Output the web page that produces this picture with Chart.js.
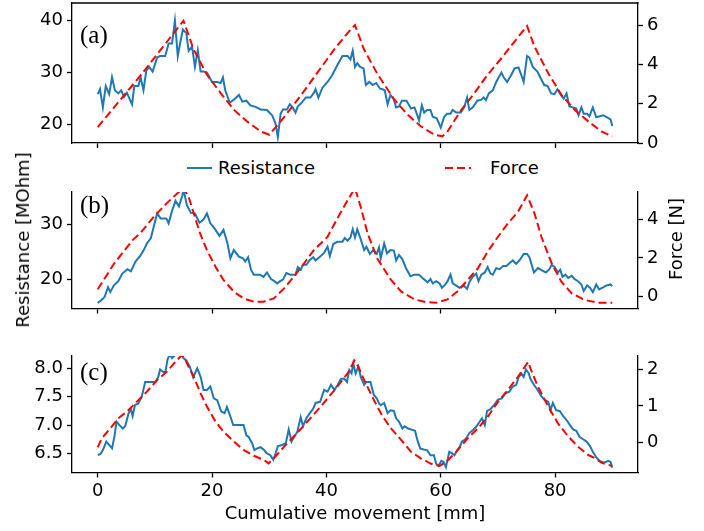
<!DOCTYPE html>
<html><head><meta charset="utf-8">
<script src="https://cdn.jsdelivr.net/npm/chart.js@4.4.0/dist/chart.umd.min.js"></script>
<style>
html,body{margin:0;padding:0;background:#fff;}
#wrap{position:relative;width:704px;height:531px;overflow:hidden;font-family:"DejaVu Sans",sans-serif;color:#000;}
.pane{position:absolute;left:0;}
.plab{position:absolute;font-family:"Liberation Serif","DejaVu Serif",serif;font-size:25px;line-height:25px;}
.ytitle{position:absolute;font-size:18px;line-height:18px;white-space:nowrap;transform:translate(-50%,-50%) rotate(-90deg);}
.leg{position:absolute;font-size:18px;line-height:18px;white-space:nowrap;}
</style></head>
<body><div id="wrap">
<div class="pane" style="top:0px"><canvas id="ca" width="704" height="151"></canvas></div>
<div class="pane" style="top:186px"><canvas id="cb" width="704" height="131"></canvas></div>
<div class="pane" style="top:350px"><canvas id="cc" width="704" height="181"></canvas></div>
<div class="plab" style="left:80px;top:22px">(a)</div>
<div class="plab" style="left:80px;top:192px">(b)</div>
<div class="plab" style="left:80px;top:359px">(c)</div>
<div class="ytitle" style="left:23px;top:240px">Resistance [MOhm]</div>
<div class="ytitle" style="left:676px;top:239px">Force [N]</div>
<svg style="position:absolute;left:185px;top:160px" width="30" height="16"><line x1="2" y1="8" x2="27" y2="8" stroke="#1f77b4" stroke-width="2"/></svg>
<div class="leg" style="left:218px;top:159px">Resistance</div>
<svg style="position:absolute;left:443px;top:160px" width="32" height="16"><line x1="2" y1="8" x2="28" y2="8" stroke="#ff0000" stroke-width="2" stroke-dasharray="8,4"/></svg>
<div class="leg" style="left:490px;top:159px">Force</div>
</div>
<script>
// ---- data (x = cumulative movement [mm]) ----
const xTicks = [0, 20, 40, 60, 80];

const aResX = [0,0.4,0.9,1.4,2,2.5,3,3.6,4.1,4.6,
 5.1,6,6.4,7.1,7.5,8,8.5,9,9.6,10.4,
 10.9,11.8,12.4,13,13.5,14,14.4,14.9,15.5,15.9,
 16.5,17,17.5,18,18.5,19.1,20,20.9,21.5,21.9,
 22.3,23.1,23.8,24.7,25.3,26,26.7,27.6,28.5,29.6,
 30.5,31.1,31.5,32,32.4,33.1,33.6,34.1,34.6,35,
 35.5,36.4,37.2,37.8,38.1,38.6,39.3,40.2,41,41.9,
 42.8,43.7,44.2,44.6,45,45.4,45.9,46.5,46.9,47.5,
 48.1,48.7,49.4,49.8,50.2,50.7,51.2,51.8,52.2,52.7,
 53.2,54,54.8,55.4,55.8,56.2,56.7,57.1,57.6,58.2,
 58.6,59.3,60,60.6,61.1,61.7,62.1,62.7,63.5,64.1,
 64.6,65,65.6,66.4,67.1,67.5,67.9,68.4,69.1,69.7,
 70.6,71,71.6,72.3,72.9,73.6,74.1,74.5,75.1,75.5,
 76.1,76.9,77.4,78.1,78.7,79.3,79.9,80.4,81,81.5,
 82,82.5,83.1,83.7,84.1,84.6,85,85.6,86,86.6,
 87.2,87.8,88.4,89.1,89.7,90];
const aRes = [25.85,26.8,23.3,27.4,25.85,29.1,26.6,26,26.6,25.3,
 26.1,23.9,27.4,27.4,29.1,26.6,30.4,31.1,30.2,32.9,
 33.2,33.2,35.6,35.6,40,33.2,35.6,38.3,37.6,34.2,
 35,31.1,34.3,30.2,30.2,30,28.2,28.2,28,29.1,
 26.6,24.2,24.8,25.7,24.4,24.6,23.7,23.4,22.9,22.8,
 21.8,20.2,17.6,22.1,22.9,22.9,23.9,23.3,22.3,23.5,
 24,25.2,25.2,26.1,26.8,25.2,27.1,28.2,29.5,31.4,
 33.2,33.2,32.5,34.2,31.1,31.8,31.1,30.8,27.6,28.2,
 27.6,28,26.9,26.8,26.6,23.9,25.7,24.8,23.3,23.5,
 24.6,24.6,23.1,23.3,22.1,20.8,23.7,22.3,22.8,22.8,
 21.5,21.2,19.4,21.5,22.1,22.1,22.8,22.3,22.3,23.3,
 25.2,22.8,23.3,24.6,24.8,25.2,24.7,26,26.6,28.2,
 30,29.1,28.2,29.5,30.8,31,29.5,28.2,33.2,32.9,
 31.1,30.2,29.1,27.6,27.4,26,25.85,26.8,25.7,25,
 26,23.5,23.3,23.1,21.8,23.3,22.1,22.1,21.6,23.3,
 21.4,21.6,21.8,21.4,21,19.7];
const aForceX = [0,7.4,15,16.8,19.1,21.5,23.8,26.1,28.5,30,32,34.3,36.7,39,41.3,43.7,45,46.6,49,
 51.9,54.2,56.5,58.9,60.3,61.2,63.6,65.9,68.2,70.6,72.9,75.1,76.4,78.8,81.1,83.4,85.8,88.1,90];
const aForce = [0.81,3.4,6.22,4.74,3.47,2.54,1.69,1.1,0.59,0.42,1.1,1.95,2.88,3.81,4.74,5.59,6.0,4.74,3.47,
 2.2,1.44,0.85,0.42,0.34,0.59,1.69,2.54,3.47,4.31,5.16,5.95,4.9,3.55,2.45,1.69,1.1,0.59,0.33];

const bResX = [0,0.6,1.2,1.8,2.2,2.8,3.6,4.3,5.2,5.8,
 6.6,7.4,8,8.6,9.3,9.8,10.4,11,12,12.4,
 13,13.6,14.2,14.8,15,15.6,16.3,17,17.8,18.5,
 19.1,19.7,20.4,21.3,22,22.7,23.2,23.8,24.7,25.4,
 25.8,26.3,26.8,27.3,28.4,29,29.6,30.3,30.9,31.4,
 31.9,32.4,33,33.7,34.6,35,35.5,35.9,36.5,37.1,
 37.7,38.1,38.9,39.6,40.2,40.6,41.2,41.9,42.8,43.2,
 43.7,44.2,44.6,45,45.4,46,46.6,47,47.6,48.2,
 48.8,49.2,49.5,50.1,50.6,51.2,51.8,52.2,52.7,53.3,
 53.9,54.7,55.4,56.2,56.8,57.7,58.2,58.6,59.2,59.8,
 60.2,60.8,61.2,61.7,62.1,62.7,63.3,64,64.6,65,
 65.6,66.2,66.6,67.1,67.7,68.2,68.7,69.1,69.7,70.3,
 70.9,71.5,72,72.6,73.2,73.9,74.5,75.1,75.5,75.9,
 76.3,77,77.7,78.4,79,79.4,79.9,80.5,80.9,81.3,
 81.8,82.3,82.9,83.4,84,84.6,85,85.6,86.1,86.6,
 87.2,87.7,88.3,88.9,89.7,90];
const bRes = [15.6,16.1,16.7,18.5,17.6,18.8,19.6,21,21.8,21.4,
 23.2,24.2,25.2,26.5,27.5,29.6,32,31.1,31.1,30.2,
 32.5,34.3,33.3,35.3,36.4,33.5,32.1,32,30.3,30.9,
 32,30.2,29.3,27.9,29,26.5,23.8,25.3,24.1,23.8,
 23.2,24,21.7,20.8,20.8,20.4,21.2,20,19.6,19.2,
 19.6,19.9,21.1,20.8,20.8,22.2,21.7,22.6,22.6,23.5,
 24,23.4,24.1,24.8,25.9,24.2,26.4,26.8,26.8,27.5,
 27,27.6,29.1,27.6,29.1,27.3,25.3,25.9,24.6,25.3,
 24.6,25.8,23.8,26.5,24.7,25.3,25.2,23.4,24.4,23.6,
 22,20.5,20.8,20.8,20.2,19.4,20,19.2,19.6,19.2,
 18.4,19,19.6,20.8,19.2,18.8,18.4,18.8,18.2,19.4,
 20.4,21,19.6,20.8,21.2,22.2,21,20.8,22,21.8,
 22.4,22.4,22.9,23.4,22.8,23.6,24.6,24.6,24,22.6,
 21.2,22,21.6,21.2,21.8,22.6,22.2,21.2,21.7,20.4,
 20.8,20.2,20.6,20,19.6,19,17.8,18.8,18.4,17.6,
 19,18.1,18.4,18.8,19,18.7];
const bForceX = [0,1.4,2.9,4.5,6.1,7.4,9.8,12,13.8,15,15.9,16.8,17.9,19.1,20.6,22,23.8,25.5,27.3,29,
 30.8,32.6,34.3,36.1,37.8,40.2,41.9,43.7,45,46,47.2,48.9,51.3,53.1,55.4,57.1,59.2,61.2,62.9,64.7,
 66.5,68.2,70,71.7,73.5,75.1,76.4,77.6,79.4,81.1,82.9,85.2,87.5,90];
const bForce = [0.38,1.03,1.72,2.32,2.92,3.26,4.12,4.8,5.3,5.6,5.15,4.29,3.26,2.4,1.54,0.86,0.26,-0.09,-0.26,-0.26,
 -0.09,0.43,1.03,1.72,2.4,3.09,4.03,4.97,5.6,4.63,3.26,1.97,0.86,0.26,-0.14,-0.26,-0.31,-0.14,0.26,0.86,
 1.46,2.32,3.09,3.77,4.37,5.23,4.29,3.09,1.72,0.77,0.17,-0.17,-0.31,-0.31];

const cResX = [0,0.5,0.9,1.5,2,2.5,2.9,3.3,3.8,4.4,
 4.8,5.4,5.8,6.1,6.5,7.1,7.7,8.3,9.2,10.1,
 10.6,10.9,11.4,11.8,12.2,12.6,13,13.6,14.4,15,
 15.5,16.1,16.7,17.4,18,18.5,19.1,19.7,20.3,20.9,
 21.6,22.2,22.6,23.1,23.7,24.4,25.5,26,26.4,27,
 27.4,27.9,28.5,29.1,29.6,30.2,30.7,31.1,31.5,32.3,
 32.9,33.4,33.9,34.3,34.9,35.5,35.9,36.5,37.1,37.7,
 38.1,38.9,39.6,40.2,40.8,41.4,42,42.5,43.1,43.6,
 44,44.4,44.7,45.1,45.6,46,46.6,47,47.7,48.3,
 48.8,49.2,49.5,50.1,50.7,51.2,51.8,52.2,52.7,53.3,
 53.7,54.3,54.9,55.5,55.9,56.4,57,57.6,58.2,58.8,
 59.2,59.6,60.1,60.5,60.9,61.5,61.9,62.4,62.9,63.3,
 63.7,64.2,64.6,65,65.6,66.2,66.8,67.2,67.7,68.1,
 68.7,69.3,70,70.7,71.3,72,72.6,73.2,73.6,74.1,
 74.5,74.9,75.4,75.7,76.3,77,77.6,78.2,78.8,79.2,
 79.6,80.2,80.8,81.4,82,82.6,83.2,83.7,84.3,84.9,
 85.5,86.1,86.6,87.2,87.8,88.6,89.3,89.7,90];
const cRes = [6.47,6.49,6.56,6.71,6.65,6.59,6.79,7.06,7,6.94,
 6.98,7.21,7.28,7.16,7.35,7.38,7.5,7.76,7.76,7.76,
 7.85,7.98,7.94,7.92,8.15,8.25,8.18,8.24,8.3,8.18,
 8.14,8.03,7.84,8,7.85,7.62,7.62,7.68,7.47,7.44,
 7.24,7.21,7.32,7.18,7,7,7,6.82,6.79,6.68,
 6.56,6.59,6.61,6.56,6.5,6.47,6.39,6.5,6.63,6.65,
 6.68,6.92,6.71,6.78,6.88,7.14,6.98,7.12,7.21,7.29,
 7.39,7.41,7.62,7.59,7.71,7.62,7.71,7.81,7.82,7.76,
 7.97,7.91,8.09,7.91,8.03,7.85,7.71,7.76,7.76,7.53,
 7.47,7.38,7.35,7.39,7.21,7.26,7.25,7.12,7.06,6.94,
 6.98,6.94,6.92,6.9,6.74,6.59,6.57,6.56,6.47,6.47,
 6.32,6.28,6.37,6.35,6.26,6.53,6.51,6.47,6.56,6.61,
 6.71,6.74,6.79,6.86,6.91,6.97,7.06,7.12,7,7.25,
 7.28,7.35,7.45,7.47,7.56,7.59,7.68,7.71,7.84,7.91,
 7.85,7.98,7.91,7.81,7.71,7.61,7.51,7.44,7.41,7.26,
 7.39,7.26,7.25,7.16,7.09,7,6.92,6.9,6.79,6.75,
 6.71,6.63,6.53,6.43,6.37,6.34,6.37,6.35,6.25];
const cForceX = [0,0.7,2.2,3.6,5.1,6.8,8.6,10.4,12.1,13.6,14.7,15.1,15.9,16.8,18,19.1,20.6,22,23.8,25.5,
 27.3,29,29.9,30.8,32.6,34.3,36.7,39,41.4,43.7,44.9,45.6,46.6,48.3,49.8,51.3,53.1,54.8,56.5,58.3,
 59.8,61.2,63,64.7,66.5,68.2,70,71.7,73.5,75.3,75.8,77,78.8,80.5,82.3,84,85.8,87,88.1,90];
const cForce = [-0.14,0.11,0.38,0.66,0.84,1.11,1.39,1.71,1.94,2.21,2.39,2.35,2.07,1.8,1.34,0.98,0.57,0.29,0.02,-0.21,
 -0.37,-0.48,-0.58,-0.44,-0.12,0.16,0.57,0.98,1.43,1.89,2.24,2.07,1.71,1.16,0.72,0.38,0.06,-0.26,-0.44,-0.59,
 -0.65,-0.5,-0.21,0.11,0.38,0.7,1.11,1.43,1.8,2.21,1.98,1.53,0.98,0.52,0.16,-0.12,-0.35,-0.44,-0.56,-0.65];

const aLeftTicks = [20, 30, 40],  aRightTicks = [0, 2, 4, 6];
const bLeftTicks = [20, 30],      bRightTicks = [0, 2, 4];
const cLeftTicks = [6.5, 7.0, 7.5, 8.0], cRightTicks = [0, 1, 2];

// ---- drawing ----
const BLUE = '#1f77b4', RED = '#ff0000';
const TFONT = {family: "'DejaVu Sans', sans-serif", size: 18};
function zip(xs, ys) { const n = Math.min(xs.length, ys.length), o = []; for (let i = 0; i < n; i++) o.push({x: xs[i], y: ys[i]}); return o; }
function noPad(s) { s.paddingTop = 0; s.paddingBottom = 0; s.paddingLeft = 0; s.paddingRight = 0; }
const spinePlugin = {
  id: 'topSpine',
  afterDraw(chart, args, opts) {
    if (!opts.show) return;
    const {ctx, chartArea: a} = chart;
    ctx.save(); ctx.strokeStyle = '#000'; ctx.lineWidth = 1.3;
    ctx.beginPath(); ctx.moveTo(a.left - 0.65, a.top); ctx.lineTo(a.right + 0.65, a.top); ctx.stroke();
    ctx.restore();
  }
};
function yScale(pos, min, max, ticks, dec) {
  return {
    type: 'linear', position: pos, min: min, max: max,
    afterBuildTicks: s => { s.ticks = ticks.map(v => ({value: v})); },
    afterFit: s => { s.width = pos === 'left' ? 72 : 66; noPad(s); },
    grid: {drawOnChartArea: false, drawTicks: true, tickLength: 5, tickColor: '#000', tickWidth: 1.3},
    border: {display: true, color: '#000', width: 1.3},
    ticks: {font: TFONT, color: '#000', padding: 4, callback: v => dec ? v.toFixed(dec) : String(v)}
  };
}
function makePanel(id, p) {
  new Chart(document.getElementById(id), {
    type: 'line',
    data: {datasets: [
      {label: 'Resistance', data: zip(p.rx, p.ry), yAxisID: 'yL', borderColor: BLUE, borderWidth: 2, pointRadius: 0, tension: 0, fill: false, order: 1},
      {label: 'Force', data: zip(p.fx, p.fy), yAxisID: 'yR', borderColor: RED, borderWidth: 2, borderDash: [8, 4], pointRadius: 0, tension: 0, fill: false, order: 0}
    ]},
    options: {
      responsive: false, animation: false, events: [],
      layout: {padding: {top: p.padTop, left: 0, right: 0, bottom: 0}},
      plugins: {legend: {display: false}, tooltip: {enabled: false}, topSpine: {show: p.top}},
      scales: {
        x: {
          type: 'linear', min: -4.5, max: 94.5,
          afterBuildTicks: s => { s.ticks = xTicks.map(v => ({value: v})); },
          afterFit: s => { s.height = p.xH; noPad(s); },
          grid: {drawOnChartArea: false, drawTicks: true, tickLength: 5, tickColor: '#000', tickWidth: 1.3},
          border: {display: true, color: '#000', width: 1.3},
          ticks: {display: p.xLabels, font: TFONT, color: '#000', padding: 3, maxRotation: 0, callback: v => String(v)},
          title: {display: p.xLabels, text: 'Cumulative movement [mm]', font: TFONT, color: '#000', padding: {top: 0, bottom: 6}}
        },
        yL: yScale('left', p.lmin, p.lmax, p.lt, p.dec),
        yR: yScale('right', p.rmin, p.rmax, p.rt, 0)
      }
    },
    plugins: [spinePlugin]
  });
}
makePanel('ca', {rx: aResX, ry: aRes, fx: aForceX, fy: aForce, padTop: 3, xH: 8, top: true, xLabels: false,
  lmin: 16.45, lmax: 43.4, lt: aLeftTicks, rmin: 0, rmax: 7.12, rt: aRightTicks, dec: 0});
makePanel('cb', {rx: bResX, ry: bRes, fx: bForceX, fy: bForce, padTop: 6, xH: 8.5, top: false, xLabels: false,
  lmin: 14.6, lmax: 35.93, lt: bLeftTicks, rmin: -0.61, rmax: 5.4, rt: bRightTicks, dec: 0});
makePanel('cc', {rx: cResX, ry: cRes, fx: cForceX, fy: cForce, padTop: 6, xH: 58.5, top: false, xLabels: true,
  lmin: 6.165, lmax: 8.217, lt: cLeftTicks, rmin: -0.83, rmax: 2.37, rt: cRightTicks, dec: 1});
</script>
</body></html>
